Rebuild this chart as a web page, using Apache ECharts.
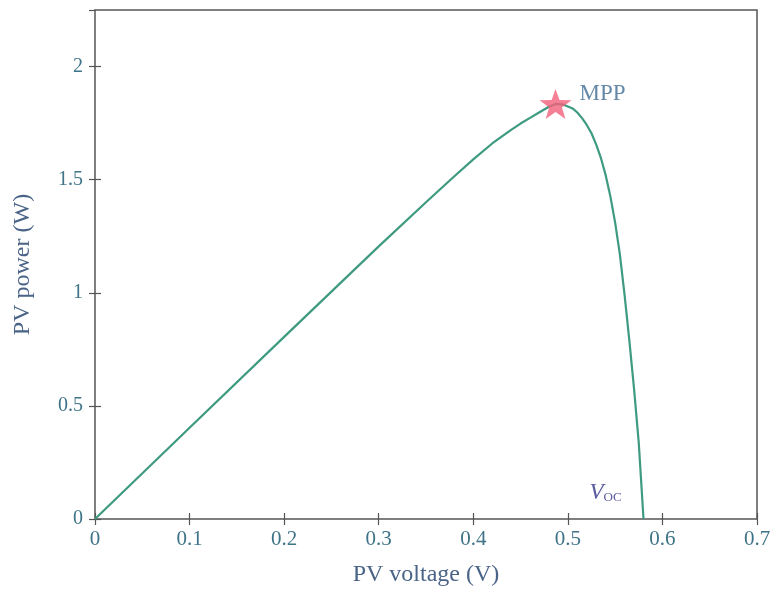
<!DOCTYPE html>
<html>
<head>
<meta charset="utf-8">
<script src="https://cdn.jsdelivr.net/npm/echarts@6/dist/echarts.min.js"></script>
<style>
  html, body { margin: 0; padding: 0; background: #fff; }
  #chart { width: 774px; height: 591px; }
</style>
</head>
<body>
<div id="chart"></div>
<script>
// PV power vs voltage
var voltage = [0, 0.1, 0.2, 0.3, 0.35, 0.38, 0.4, 0.42, 0.44, 0.45, 0.46, 0.47, 0.48, 0.487,
  0.495, 0.505, 0.51, 0.515, 0.52, 0.525, 0.53, 0.535, 0.54, 0.545, 0.55, 0.555, 0.56, 0.565, 0.57, 0.575, 0.58]
var power = [0, 0.403, 0.805, 1.205, 1.4, 1.515, 1.59, 1.66, 1.72, 1.748, 1.773, 1.798, 1.822, 1.835,
  1.832, 1.815, 1.797, 1.772, 1.742, 1.705, 1.655, 1.595, 1.52, 1.425, 1.31, 1.17, 0.99, 0.79, 0.575, 0.335, 0]
var mpp = [0.487, 1.835]
var voc = 0.58
var xTicks = { min: 0, max: 0.7, step: 0.1 }
var yTicks = { min: 0, max: 2.25, step: 0.5 }

var txt = '#4a6488'
var font = 'Liberation Serif'

var chart = echarts.init(document.getElementById('chart'))

var tickStyle = { show: true, inside: true, length: 6, lineStyle: { color: '#555', width: 1.2 } }

chart.setOption({
  animation: false,
  backgroundColor: '#fff',
  grid: {
    left: 95, right: 17, top: 10, bottom: 72, outerBoundsMode: 'none',
    show: true, borderColor: '#555', borderWidth: 1.5
  },
  xAxis: [{
    type: 'value', min: xTicks.min, max: xTicks.max, interval: xTicks.step,
    name: 'PV voltage (V)', nameLocation: 'middle', nameGap: 44,
    nameTextStyle: { color: txt, fontFamily: font, fontSize: 24 },
    axisLine: { show: false }, axisTick: tickStyle, splitLine: { show: false },
    axisLabel: { color: '#3f7488', fontFamily: font, fontSize: 21, margin: 10 }
  }, {
    type: 'value', position: 'top', min: xTicks.min, max: xTicks.max, interval: xTicks.step,
    axisLine: { show: false }, axisTick: tickStyle, splitLine: { show: false }, axisLabel: { show: false }
  }],
  yAxis: [{
    type: 'value', min: yTicks.min, max: yTicks.max, interval: yTicks.step,
    name: 'PV power (W)', nameLocation: 'middle', nameGap: 60,
    nameTextStyle: { color: txt, fontFamily: font, fontSize: 24 },
    axisLine: { show: false }, axisTick: tickStyle, splitLine: { show: false },
    axisLabel: { color: '#3f7488', fontFamily: font, fontSize: 20, margin: 12, showMaxLabel: false }
  }, {
    type: 'value', position: 'right', min: yTicks.min, max: yTicks.max, interval: yTicks.step,
    axisLine: { show: false }, axisTick: tickStyle, splitLine: { show: false }, axisLabel: { show: false }
  }],
  series: [{
    type: 'line',
    data: voltage.map(function(v, i) { return [v, power[i]] }),
    smooth: false,
    showSymbol: false,
    lineStyle: { color: '#3e9a80', width: 2.2, join: 'round' },
    markPoint: {
      symbol: 'circle',
      symbolSize: 1,
      itemStyle: { color: 'rgba(0,0,0,0)' },
      data: [{
        coord: [voc, 0],
        label: {
          show: true, position: 'inside', offset: [-38, -26],
          formatter: '{v|V}{s|OC}',
          rich: {
            v: { fontFamily: font, fontStyle: 'italic', fontSize: 23, color: '#5a5aa0' },
            s: { fontFamily: font, fontSize: 13, color: '#5a5aa0', padding: [10, 0, 0, 0] }
          }
        }
      }]
    }
  }, {
    type: 'scatter',
    data: [mpp],
    symbol: 'path://M0,-10 L2.35,-3.24 L9.51,-3.09 L3.8,1.24 L5.88,8.09 L0,4 L-5.88,8.09 L-3.8,1.24 L-9.51,-3.09 L-2.35,-3.24 Z',
    symbolSize: [32, 30],
    itemStyle: { color: '#f2607a' },
    label: {
      show: true, position: 'right', distance: 8, offset: [0, -10],
      formatter: 'MPP', color: '#3e6a92', fontFamily: font, fontSize: 23
    },
    z: 5
  }]
})
</script>
</body>
</html>
